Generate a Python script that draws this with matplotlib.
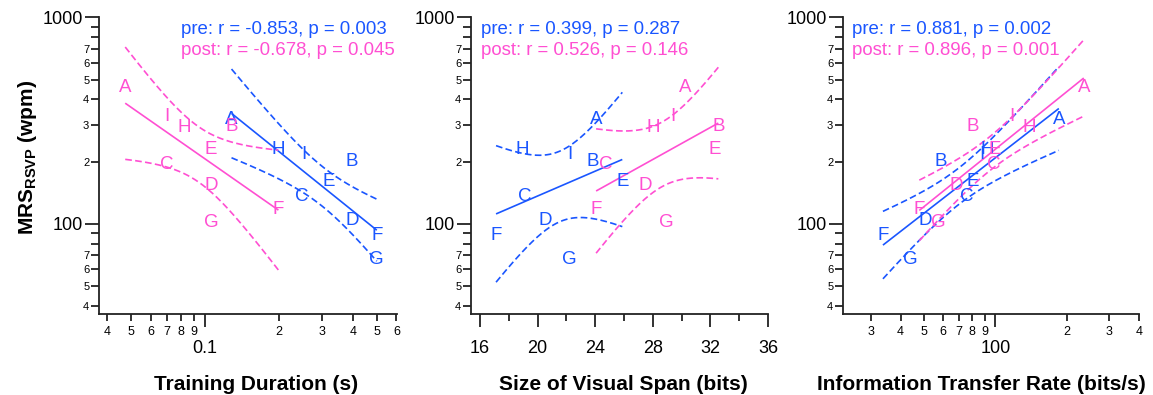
import numpy as np
import matplotlib
matplotlib.use('Agg')
import matplotlib.pyplot as plt
from matplotlib.ticker import FixedLocator, FixedFormatter

plt.rcParams['font.family'] = ['Liberation Sans', 'DejaVu Sans']
plt.rcParams['mathtext.fontset'] = 'custom'
plt.rcParams['mathtext.rm'] = 'Liberation Sans'
plt.rcParams['mathtext.bf'] = 'Liberation Sans:bold'

# ---------------- data ----------------
subjects = ['A', 'B', 'C', 'D', 'E', 'F', 'G', 'H', 'I']
pre_mrs = [320, 200, 136, 103, 160, 88, 67, 230, 216]
post_mrs = [456, 297, 193, 153, 230, 117, 101, 291, 332]

train_pre = [0.128, 0.395, 0.247, 0.395, 0.317, 0.499, 0.499, 0.199, 0.251]
train_post = [0.0473, 0.128, 0.0699, 0.1057, 0.1057, 0.1986, 0.1064, 0.0822, 0.0699]

span_pre = [24.06, 23.82, 19.13, 20.51, 25.88, 17.11, 22.18, 18.96, 22.25]
span_post = [30.24, 32.55, 24.75, 27.46, 32.27, 24.06, 28.96, 28.04, 29.38]

itr_pre = [184.7, 59.0, 75.6, 50.8, 80.1, 33.7, 43.9, 92.6, 88.0]
itr_post = [235.0, 80.1, 98.8, 68.2, 99.7, 47.9, 57.6, 139.0, 117.0]

stats_pre = ['pre: r = -0.853, p = 0.003', 'pre: r = 0.399, p = 0.287', 'pre: r = 0.881, p = 0.002']
stats_post = ['post: r = -0.678, p = 0.045', 'post: r = 0.526, p = 0.146', 'post: r = 0.896, p = 0.001']

x_labels = ['Training Duration (s)', 'Size of Visual Span (bits)', 'Information Transfer Rate (bits/s)']
y_label = r'$\mathbf{MRS}_{\mathbf{RSVP}}$ (wpm)'

y_major = [100, 1000]
y_major_labels = ['100', '1000']
y_minor = [40, 50, 60, 70, 80, 90, 200, 300, 400, 500, 600, 700, 800, 900]
y_minor_labels = ['4', '5', '6', '7', '', '', '2', '3', '4', '5', '6', '7', '', '']

x1_major = [0.1]
x1_major_labels = ['0.1']
x1_minor = [0.04, 0.05, 0.06, 0.07, 0.08, 0.09, 0.2, 0.3, 0.4, 0.5, 0.6]
x1_minor_labels = ['4', '5', '6', '7', '8', '9', '2', '3', '4', '5', '6']

x2_major = [16, 20, 24, 28, 32, 36]
x2_major_labels = ['16', '20', '24', '28', '32', '36']
x2_minor = [18, 22, 26, 30, 34]

x3_major = [100]
x3_major_labels = ['100']
x3_minor = [30, 40, 50, 60, 70, 80, 90, 200, 300, 400]
x3_minor_labels = ['3', '4', '5', '6', '7', '8', '9', '2', '3', '4']

T_CRIT = 2.3646  # Student t, 0.975 quantile, df = 7

BLUE = '#1a56ff'
PINK = '#ff4fd2'


def fit_band(x, y, logx):
    x = np.asarray(x, float)
    tx = np.log10(x) if logx else x
    ty = np.log10(np.asarray(y, float))
    n = len(tx)
    b, a = np.polyfit(tx, ty, 1)
    resid = ty - (a + b * tx)
    s = np.sqrt(np.sum(resid ** 2) / (n - 2))
    sxx = np.sum((tx - tx.mean()) ** 2)
    g = np.linspace(tx.min(), tx.max(), 200)
    fit = a + b * g
    half = T_CRIT * s * np.sqrt(1.0 / n + (g - tx.mean()) ** 2 / sxx)
    gx = 10 ** g if logx else g
    return gx, 10 ** fit, 10 ** (fit - half), 10 ** (fit + half)


fig = plt.figure(figsize=(11.53, 3.95), dpi=100)

panels = [
    dict(left=99, width=298, pre=train_pre, post=train_post, logx=True, xlim=(0.037, 0.603),
         major=x1_major, major_labels=x1_major_labels, minor=x1_minor, minor_labels=x1_minor_labels,
         txt_x=0.275, xl=0.527),
    dict(left=471, width=297, pre=span_pre, post=span_post, logx=False, xlim=(15.37, 36.0),
         major=x2_major, major_labels=x2_major_labels, minor=x2_minor, minor_labels=[''] * len(x2_minor),
         txt_x=0.033, xl=0.513),
    dict(left=843, width=296, pre=itr_pre, post=itr_post, logx=True, xlim=(22.9, 401),
         major=x3_major, major_labels=x3_major_labels, minor=x3_minor, minor_labels=x3_minor_labels,
         txt_x=0.029, xl=0.468),
]

W, H = 1153.0, 395.0
top_px, bot_px = 17.5, 314.0

for i, p in enumerate(panels):
    ax = fig.add_axes([p['left'] / W, 1 - bot_px / H, p['width'] / W, (bot_px - top_px) / H])
    ax.set_yscale('log')
    if p['logx']:
        ax.set_xscale('log')
    ax.set_xlim(*p['xlim'])
    ax.set_ylim(36.4, 1000)

    for xs, ys, col in ((p['pre'], pre_mrs, BLUE), (p['post'], post_mrs, PINK)):
        gx, fit, lo, hi = fit_band(xs, ys, p['logx'])
        ax.plot(gx, fit, color=col, lw=1.2, solid_capstyle='butt')
        ax.plot(gx, lo, color=col, lw=1.2, dashes=(4, 2))
        ax.plot(gx, hi, color=col, lw=1.2, dashes=(4, 2))
        for s, xv, yv in zip(subjects, xs, ys):
            ax.text(xv, yv, s, color=col, fontsize=13.5, ha='center', va='center')

    ax.text(p['txt_x'], 0.96, stats_pre[i], transform=ax.transAxes, color=BLUE,
            fontsize=13.4, ha='left', va='center')
    ax.text(p['txt_x'], 0.889, stats_post[i], transform=ax.transAxes, color=PINK,
            fontsize=13.4, ha='left', va='center')

    for side in ('top', 'right'):
        ax.spines[side].set_visible(False)
    for side in ('left', 'bottom'):
        ax.spines[side].set_linewidth(1.3)
        ax.spines[side].set_color('#222222')

    # y ticks
    ax.yaxis.set_major_locator(FixedLocator(y_major))
    ax.yaxis.set_major_formatter(FixedFormatter(y_major_labels))
    ax.yaxis.set_minor_locator(FixedLocator(y_minor))
    ax.yaxis.set_minor_formatter(FixedFormatter(y_minor_labels))
    ax.tick_params(axis='y', which='major', length=10, width=1.3, labelsize=13, pad=1.5, color='#222222')
    ax.tick_params(axis='y', which='minor', length=5.5, width=1.3, labelsize=8, pad=1.5, color='#222222')

    # x ticks
    ax.xaxis.set_major_locator(FixedLocator(p['major']))
    ax.xaxis.set_major_formatter(FixedFormatter(p['major_labels']))
    ax.xaxis.set_minor_locator(FixedLocator(p['minor']))
    ax.xaxis.set_minor_formatter(FixedFormatter(p['minor_labels']))
    ax.tick_params(axis='x', which='major', length=9.4, width=1.3, labelsize=13, pad=9, color='#222222')
    ax.tick_params(axis='x', which='minor', length=5, width=1.3, labelsize=9, pad=3.5, color='#222222')

    ax.set_xlabel(x_labels[i], fontsize=15, fontweight='bold')
    ax.xaxis.set_label_coords(p['xl'], -0.205)
    ax.xaxis.label.set_va('top')

fig.text(28 / W, 1 - 157 / H, y_label, rotation=90, fontsize=15, fontweight='bold',
         ha='center', va='center')

fig.savefig('out.png', dpi=100)
